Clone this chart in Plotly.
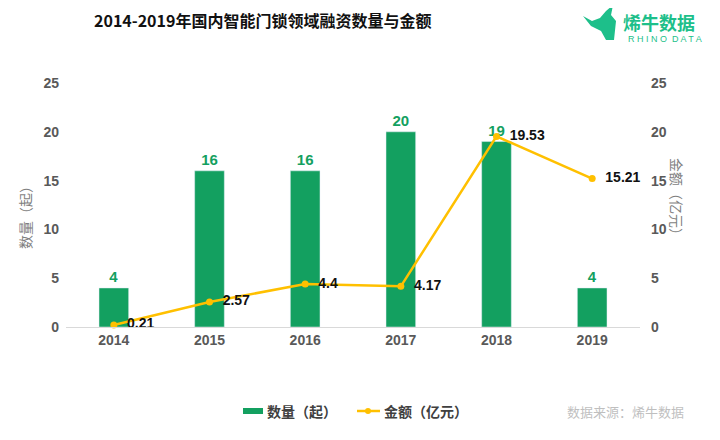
import plotly.graph_objects as go

years = ["2014", "2015", "2016", "2017", "2018", "2019"]
counts = [4, 16, 16, 20, 19, 4]
amounts = [0.21, 2.57, 4.4, 4.17, 19.53, 15.21]
amount_labels = ["0.21", "2.57", "4.4", "4.17", "19.53", "15.21"]
y_ticks = [0, 5, 10, 15, 20, 25]

GREEN = "#13A060"
GOLD = "#FFC000"
LOGO = "#1DBF8A"
FONT = "Noto Sans CJK SC, Arial, sans-serif"
NUMF = "Liberation Sans, Arial, sans-serif"

# plot area in page pixels (page has an 8px body offset)
PL, PR, PT, PB = 66, 640, 83, 327


def px(X):
    return (X - PL) / (PR - PL)


def py(Y):
    return (PB - Y) / (PB - PT)


fig = go.Figure()
fig.add_trace(go.Bar(
    x=years, y=counts, name="数量（起）", marker_color=GREEN, width=0.31,
    text=["<b>%d</b>" % c for c in counts], textposition="outside",
    textfont=dict(color=GREEN, size=15, family=NUMF), cliponaxis=False,
    showlegend=False,
))
fig.add_trace(go.Scatter(
    x=years, y=amounts, name="金额（亿元）", yaxis="y2", mode="lines+markers+text",
    line=dict(color=GOLD, width=2.5), marker=dict(color=GOLD, size=7),
    text=["  <b>%s</b>" % t for t in amount_labels], textposition="middle right",
    textfont=dict(color="#111111", size=14, family=NUMF), cliponaxis=False,
    showlegend=False,
))

tick_text = ["<b>%d</b>" % v for v in y_ticks]
fig.update_layout(
    width=720, height=440,
    margin=dict(l=PL - 8, r=720 - (PR - 8), t=PT - 8, b=440 - (PB - 8)),
    paper_bgcolor="white", plot_bgcolor="white",
    font=dict(family=FONT, color="#595959", size=13),
    showlegend=False,
    xaxis=dict(showgrid=False, showline=True, linecolor="#D9D9D9", ticks="",
               tickvals=years, ticktext=["<b>%s</b>" % y for y in years],
               tickfont=dict(size=14, color="#595959", family=NUMF)),
    yaxis=dict(range=[0, 25], tickvals=y_ticks, ticktext=tick_text, showgrid=False,
               zeroline=False, ticklabelstandoff=6,
               tickfont=dict(size=14, color="#595959", family=NUMF)),
    yaxis2=dict(range=[0, 25], tickvals=y_ticks, ticktext=tick_text, overlaying="y",
                side="right", showgrid=False, zeroline=False, ticklabelstandoff=10,
                tickfont=dict(size=14, color="#595959", family=NUMF)),
)

ann = []
ann.append(dict(text="<b>2014-2019年国内智能门锁领域融资数量与金额</b>",
                x=px(262), y=py(20), font=dict(size=16, color="#111111", family=FONT)))
ann.append(dict(text="<b>烯牛数据</b>", x=px(622), y=py(8), xanchor="left", yanchor="top",
                borderpad=0, font=dict(size=18, color=LOGO, family=FONT)))
ann.append(dict(text="R H I N O  D A T A", x=px(665), y=py(39),
                font=dict(size=9, color=LOGO, family=NUMF)))
ann.append(dict(text="数量（起）", x=px(25), y=py(214), textangle=-90,
                font=dict(size=14, color="#7F7F7F", family=FONT)))
ann.append(dict(text="金额（亿元）", x=px(677), y=py(200), textangle=90,
                font=dict(size=14, color="#7F7F7F", family=FONT)))
ann.append(dict(text="<b>数量（起）</b>", x=px(265), y=py(411), xanchor="left",
                font=dict(size=14, color="#404040", family=FONT)))
ann.append(dict(text="<b>金额（亿元）</b>", x=px(382), y=py(411), xanchor="left",
                font=dict(size=14, color="#404040", family=FONT)))
ann.append(dict(text="数据来源：烯牛数据", x=px(625), y=py(411),
                font=dict(size=13, color="#BFBFBF", family=FONT)))
for a in ann:
    a.setdefault("xanchor", "center")
    a.setdefault("yanchor", "middle")
    fig.add_annotation(xref="paper", yref="paper", showarrow=False, **a)

# legend swatches
fig.add_shape(type="rect", xref="paper", yref="paper", x0=px(243), x1=px(263),
              y0=py(414), y1=py(408), fillcolor=GREEN, line_width=0)
fig.add_shape(type="line", xref="paper", yref="paper", x0=px(357), x1=px(380),
              y0=py(411), y1=py(411), line=dict(color=GOLD, width=2.5))
fig.add_shape(type="circle", xref="paper", yref="paper", x0=px(365), x1=px(371),
              y0=py(414), y1=py(408), fillcolor=GOLD, line_width=0)

# logo icon (rhino head silhouette)
pts = [(583, 16), (592, 21), (600, 18), (606, 11), (613, 5), (611, 15), (616, 21),
       (614, 40), (606, 40), (601, 31), (591, 26)]
path = "M " + " L ".join("%.4f,%.4f" % (px(x), py(y)) for x, y in pts) + " Z"
fig.add_shape(type="path", xref="paper", yref="paper", path=path,
              fillcolor=LOGO, line_width=0)

fig.write_html("out.html")
